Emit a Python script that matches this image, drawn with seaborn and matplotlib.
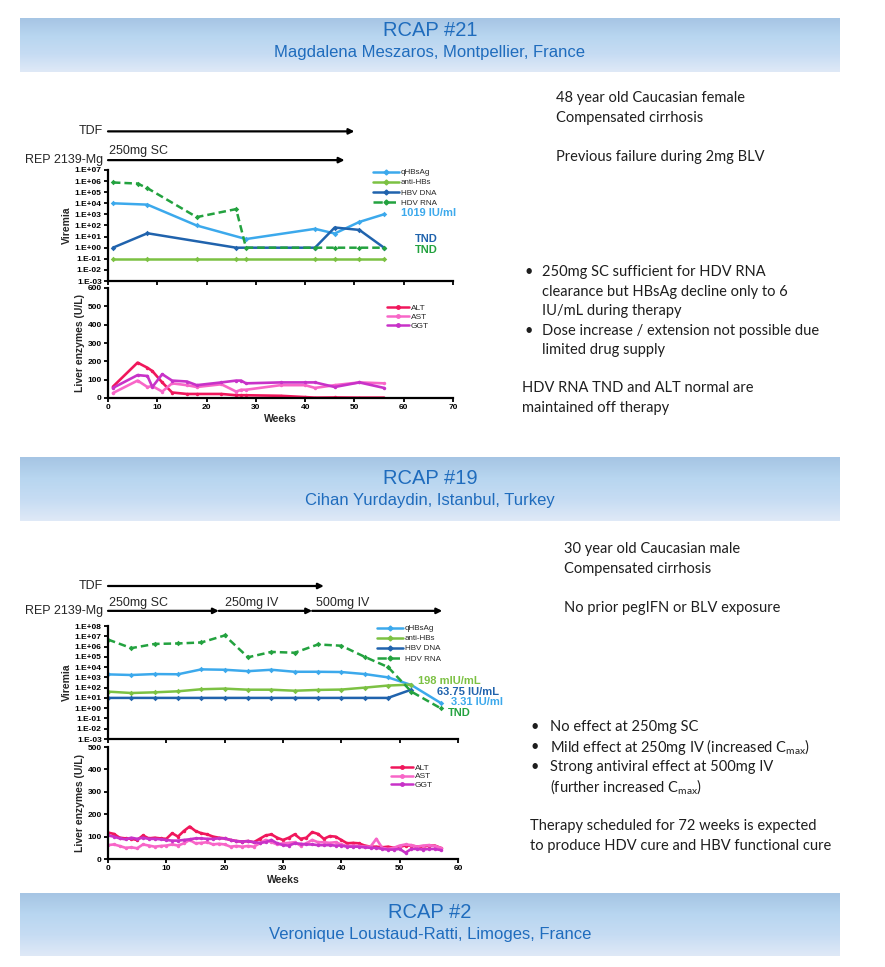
import numpy as np
import pandas as pd
import matplotlib.pyplot as plt
import seaborn as sns
from matplotlib.colors import LinearSegmentedColormap
from matplotlib.lines import Line2D
from matplotlib.ticker import FixedLocator, FuncFormatter, NullLocator

sns.set_theme(style='white')
plt.rcParams['font.family'] = ['Liberation Sans', 'DejaVu Sans']

W, H = 885, 967

# ---- RCAP #21: viremia ----
hbsag21_wk = [1, 8, 18, 28, 42, 46, 51, 56]
hbsag21 = [1.0e4, 7.6e3, 1.0e2, 6, 50, 19, 210, 1019]
antihbs21_wk = [1, 8, 18, 26, 28, 42, 46, 51, 56]
antihbs21 = [0.1, 0.1, 0.1, 0.1, 0.1, 0.1, 0.1, 0.1, 0.1]
hbvdna21_wk = [1, 8, 26, 42, 46, 51, 56]
hbvdna21 = [1, 20, 1, 1, 66, 40, 1]
hdvrna21_wk = [1, 6, 8, 18, 26, 28, 42, 46, 51, 56]
hdvrna21 = [7.5e5, 6e5, 2.3e5, 570, 3e3, 1, 1, 1, 1, 1]

# ---- RCAP #21: enzimas hepaticas ----
liver21_wk = [1, 6, 8, 9, 11, 13, 16, 18, 23, 26, 27, 28, 35, 40, 42, 46, 51, 56]
alt21 = [62, 193, 165, 147, 85, 30, 22, 22, 22, 15, 15, 15, 12, 5, 2, 3, 2, 2]
ast21 = [27, 95, 60, 65, 35, 80, 70, 60, 75, 35, 45, 45, 70, 70, 55, 70, 85, 80]
ggt21 = [55, 125, 120, 60, 130, 95, 90, 70, 85, 95, 95, 80, 85, 85, 85, 60, 85, 55]

# ---- RCAP #19: viremia ----
vir19_wk = [0, 4, 8, 12, 16, 20, 24, 28, 32, 36, 40, 44, 48, 52, 57]
hbsag19 = [1.95e3, 1.7e3, 2.1e3, 2.0e3, 6.0e3, 5.5e3, 4.0e3, 5.5e3, 3.5e3, 3.5e3, 3.3e3, 2.1e3, 1.0e3, 180, 3.31]
antihbs19_wk = [0, 4, 8, 12, 16, 20, 24, 28, 32, 36, 40, 44, 48, 52]
antihbs19 = [41, 30, 35, 44, 70, 80, 63, 63, 50, 60, 65, 100, 160, 198]
hbvdna19_wk = [0, 4, 8, 12, 16, 20, 24, 28, 32, 36, 40, 44, 48, 52]
hbvdna19 = [10, 10, 10, 10, 10, 10, 10, 10, 10, 10, 10, 10, 10, 63.75]
hdvrna19 = [4.8e6, 7e5, 1.8e6, 2e6, 2.5e6, 1.2e7, 9e4, 3e5, 2.5e5, 1.6e6, 1.2e6, 1e5, 1e4, 41, 1]

# ---- RCAP #19: enzimas hepaticas (semanal) ----
liver19_wk = list(range(58))
alt19 = [118, 112, 95, 92, 90, 85, 105, 92, 95, 92, 90, 115, 100, 125, 145, 125, 115, 110, 100, 95,
         92, 85, 80, 78, 80, 75, 90, 105, 110, 95, 85, 95, 110, 90, 95, 120, 112, 90, 102, 100,
         85, 70, 72, 70, 60, 55, 55, 52, 55, 50, 55, 60, 60, 55, 55, 60, 60, 50]
ast19 = [62, 65, 58, 50, 52, 48, 65, 60, 55, 58, 60, 65, 60, 70, 85, 70, 72, 75, 65, 68,
         65, 55, 58, 55, 58, 55, 70, 85, 75, 65, 70, 72, 75, 60, 70, 85, 75, 75, 72, 75,
         65, 58, 60, 58, 55, 55, 90, 50, 45, 50, 60, 65, 62, 55, 60, 62, 58, 50]
ggt19 = [105, 100, 92, 88, 95, 90, 95, 90, 90, 88, 85, 82, 82, 85, 88, 92, 92, 90, 90, 92,
         92, 85, 80, 78, 80, 75, 72, 75, 85, 70, 62, 60, 70, 68, 65, 65, 62, 62, 62, 60,
         60, 55, 55, 55, 52, 50, 50, 45, 42, 42, 45, 28, 45, 45, 42, 45, 45, 40]

vir_order = ['qHBsAg', 'anti-HBs', 'HBV DNA', 'HDV RNA']
vir_pal = {'qHBsAg': '#3ca9ec', 'anti-HBs': '#7cc143', 'HBV DNA': '#2063ad', 'HDV RNA': '#23a23f'}
vir_dash = {'qHBsAg': '', 'anti-HBs': '', 'HBV DNA': '', 'HDV RNA': (3, 1.6)}
liv_order = ['ALT', 'AST', 'GGT']
liv_pal = {'ALT': '#f0175c', 'AST': '#f866c8', 'GGT': '#c832c8'}
liv_dash = {'ALT': '', 'AST': '', 'GGT': ''}


def long_df(series):
    frames = []
    for name, wk, vals in series:
        frames.append(pd.DataFrame({'week': wk, 'value': vals, 'series': name}))
    return pd.concat(frames, ignore_index=True)


def px_axes(fig, left, top, right, bottom):
    return fig.add_axes([left / W, 1 - bottom / H, (right - left) / W, (bottom - top) / H])


def ftext(fig, x, y, s, **kw):
    fig.text(x / W, 1 - y / H, s, **kw)


def style_axis(ax):
    sns.despine(ax=ax)
    for sp in ['left', 'bottom']:
        ax.spines[sp].set_color('black')
        ax.spines[sp].set_linewidth(1.6)
    ax.tick_params(axis='both', direction='out', length=3, width=1.3, labelsize=6,
                   pad=1.5, colors='black', left=True, bottom=True)
    plt.setp(ax.get_xticklabels() + ax.get_yticklabels(), fontweight='bold')


def viremia_panel(ax, df, lo, hi, xmax):
    sns.lineplot(data=df, x='week', y='value', hue='series', style='series',
                 hue_order=vir_order, style_order=vir_order, palette=vir_pal,
                 dashes=vir_dash, markers={k: 'D' for k in vir_order},
                 markersize=2.8, markeredgewidth=0, linewidth=1.8,
                 estimator=None, legend=False, ax=ax)
    ax.set_yscale('log')
    ax.set_ylim(10.0 ** lo, 10.0 ** hi)
    ax.set_xlim(0, xmax)
    ax.yaxis.set_major_locator(FixedLocator([10.0 ** k for k in range(lo, hi + 1)]))
    ax.yaxis.set_minor_locator(NullLocator())
    ax.yaxis.set_major_formatter(FuncFormatter(lambda v, p: f"1.E{int(round(np.log10(v))):+03d}"))
    ax.set_xticks(range(0, xmax + 1, 10))
    ax.set_xticklabels([])
    ax.set_xlabel('')
    ax.set_ylabel('Viremia', fontsize=7.5, fontweight='bold', labelpad=2)
    style_axis(ax)
    handles = [Line2D([], [], color=vir_pal[k], lw=1.8, ls='--' if k == 'HDV RNA' else '-',
                      marker='D', markersize=2.5) for k in vir_order]
    ax.legend(handles, vir_order, loc='upper left', bbox_to_anchor=(0.76, 1.04),
              frameon=False, fontsize=5.8, handlelength=3.2, labelspacing=0.3,
              handletextpad=0.2, borderaxespad=0)


def liver_panel(ax, df, ymax, xmax, anchor):
    sns.lineplot(data=df, x='week', y='value', hue='series', style='series',
                 hue_order=liv_order, style_order=liv_order, palette=liv_pal,
                 dashes=liv_dash, markers={k: 'o' for k in liv_order},
                 markersize=2.5, markeredgewidth=0, linewidth=1.9,
                 estimator=None, legend=False, ax=ax)
    ax.set_ylim(0, ymax)
    ax.set_xlim(0, xmax)
    ax.set_yticks(range(0, ymax + 1, 100))
    ax.set_xticks(range(0, xmax + 1, 10))
    ax.set_xlabel('Weeks', fontsize=7.5, fontweight='bold', labelpad=2)
    ax.set_ylabel('Liver enzymes (U/L)', fontsize=7.5, fontweight='bold', labelpad=2)
    style_axis(ax)
    handles = [Line2D([], [], color=liv_pal[k], lw=1.8, marker='o', markersize=2.5) for k in liv_order]
    ax.legend(handles, liv_order, loc='upper left', bbox_to_anchor=anchor,
              frameon=False, fontsize=6, handlelength=2.6, labelspacing=0.12,
              handletextpad=0.2, borderaxespad=0)


def arrow(ax, x0, x1, yfrac):
    ax.annotate('', xy=(x1, yfrac), xytext=(x0, yfrac), xycoords=('data', 'axes fraction'),
                textcoords=('data', 'axes fraction'), annotation_clip=False,
                arrowprops=dict(arrowstyle='-|>', color='black', lw=1.6,
                                mutation_scale=8, shrinkA=0, shrinkB=0))


def band(fig, top, bottom, title, sub, ty, sy):
    bax = px_axes(fig, 20, top, 840, bottom)
    cmap = LinearSegmentedColormap.from_list('band', ['#a6c5e4', '#b8d6f0', '#c6dcf3', '#dfe9f7'])
    bax.imshow(np.linspace(0, 1, 64).reshape(-1, 1), aspect='auto', cmap=cmap,
               extent=[0, 1, 0, 1])
    bax.axis('off')
    ftext(fig, 430, ty, title, ha='center', va='center', fontsize=14.5, color='#1f6cbd')
    ftext(fig, 430, sy, sub, ha='center', va='center', fontsize=12, color='#1f6cbd')


fig = plt.figure(figsize=(W / 100, H / 100), dpi=100)
fig.patch.set_facecolor('white')

band(fig, 18, 72, 'RCAP #21', 'Magdalena Meszaros, Montpellier, France', 31, 53)
band(fig, 457, 521, 'RCAP #19', 'Cihan Yurdaydin, Istanbul, Turkey', 478, 501)
band(fig, 893, 956, 'RCAP #2', 'Veronique Loustaud-Ratti, Limoges, France', 912, 935)

# ---- grafica RCAP #21 ----
ax1 = px_axes(fig, 108, 170, 453, 281)
df1 = long_df([('qHBsAg', hbsag21_wk, hbsag21), ('anti-HBs', antihbs21_wk, antihbs21),
               ('HBV DNA', hbvdna21_wk, hbvdna21), ('HDV RNA', hdvrna21_wk, hdvrna21)])
viremia_panel(ax1, df1, -3, 7, 70)
ax1.text(59.5, 1.4e3, '1019 IU/ml', color=vir_pal['qHBsAg'], fontsize=8, fontweight='bold', va='center')
ax1.text(62.3, 5.6, 'TND', color=vir_pal['HBV DNA'], fontsize=8, fontweight='bold', va='center')
ax1.text(62.3, 0.6, 'TND', color=vir_pal['HDV RNA'], fontsize=8, fontweight='bold', va='center')

arrow(ax1, 0, 50, 1.348)
arrow(ax1, 0, 48, 1.089)
ax1.text(-0.014, 1.348, 'TDF', transform=ax1.transAxes, ha='right', va='center', fontsize=9)
ax1.text(-0.014, 1.089, 'REP 2139-Mg', transform=ax1.transAxes, ha='right', va='center', fontsize=9)
ax1.text(0.3, 1.17, '250mg SC', transform=ax1.get_xaxis_transform(), ha='left', va='center', fontsize=9)

ax2 = px_axes(fig, 108, 288, 453, 398)
df2 = long_df([('ALT', liver21_wk, alt21), ('AST', liver21_wk, ast21), ('GGT', liver21_wk, ggt21)])
liver_panel(ax2, df2, 600, 70, (0.8, 0.88))

# ---- grafica RCAP #19 ----
ax3 = px_axes(fig, 108, 626, 458, 739)
df3 = long_df([('qHBsAg', vir19_wk, hbsag19), ('anti-HBs', antihbs19_wk, antihbs19),
               ('HBV DNA', hbvdna19_wk, hbvdna19), ('HDV RNA', vir19_wk, hdvrna19)])
viremia_panel(ax3, df3, -3, 8, 60)
ax3.text(53.2, 446, '198 mIU/mL', color=vir_pal['anti-HBs'], fontsize=8, fontweight='bold', va='center')
ax3.text(56.4, 38, '63.75 IU/mL', color=vir_pal['HBV DNA'], fontsize=8, fontweight='bold', va='center')
ax3.text(58.8, 4, '3.31 IU/ml', color=vir_pal['qHBsAg'], fontsize=8, fontweight='bold', va='center')
ax3.text(58.3, 0.34, 'TND', color=vir_pal['HDV RNA'], fontsize=8, fontweight='bold', va='center')

arrow(ax3, 0, 37, 1.354)
arrow(ax3, 0, 19, 1.134)
arrow(ax3, 19, 35, 1.134)
arrow(ax3, 35, 57.3, 1.134)
ax3.text(-0.014, 1.354, 'TDF', transform=ax3.transAxes, ha='right', va='center', fontsize=9)
ax3.text(-0.014, 1.134, 'REP 2139-Mg', transform=ax3.transAxes, ha='right', va='center', fontsize=9)
for wk, lab in [(0.2, '250mg SC'), (20, '250mg IV'), (35.6, '500mg IV')]:
    ax3.text(wk, 1.2, lab, transform=ax3.get_xaxis_transform(), ha='left', va='center', fontsize=9)

ax4 = px_axes(fig, 108, 747, 458, 859)
df4 = long_df([('ALT', liver19_wk, alt19), ('AST', liver19_wk, ast19), ('GGT', liver19_wk, ggt19)])
liver_panel(ax4, df4, 500, 60, (0.8, 0.88))

# ---- texto de la derecha ----
body = dict(fontsize=10.5, color='#1e1e1e', va='center', family=['Lato', 'DejaVu Sans'])
ftext(fig, 556, 98, '48 year old Caucasian female', **body)
ftext(fig, 556, 118, 'Compensated cirrhosis', **body)
ftext(fig, 556, 157, 'Previous failure during 2mg BLV', **body)
for y, s, bullet in [(272, '250mg SC sufficient for HDV RNA', True),
                     (292, 'clearance but HBsAg decline only to 6', False),
                     (311, 'IU/mL during therapy', False),
                     (331, 'Dose increase / extension not possible due', True),
                     (350, 'limited drug supply', False)]:
    if bullet:
        ftext(fig, 524, y, '\u2022', **body)
    ftext(fig, 542, y, s, **body)
ftext(fig, 522, 388, 'HDV RNA TND and ALT normal are', **body)
ftext(fig, 522, 408, 'maintained off therapy', **body)

ftext(fig, 564, 549, '30 year old Caucasian male', **body)
ftext(fig, 564, 569, 'Compensated cirrhosis', **body)
ftext(fig, 564, 608, 'No prior pegIFN or BLV exposure', **body)
for y, s, bullet in [(727, 'No effect at 250mg SC', True),
                     (747, r'Mild effect at 250mg IV (increased C$_{\mathregular{max}}$)', True),
                     (767, 'Strong antiviral effect at 500mg IV', True),
                     (787, r'(further increased C$_{\mathregular{max}}$)', False)]:
    if bullet:
        ftext(fig, 531, y, '\u2022', **body)
    ftext(fig, 550, y, s, **body)
ftext(fig, 530, 826, 'Therapy scheduled for 72 weeks is expected', **body)
ftext(fig, 530, 846, 'to produce HDV cure and HBV functional cure', **body)

fig.savefig('out.png', dpi=100)
